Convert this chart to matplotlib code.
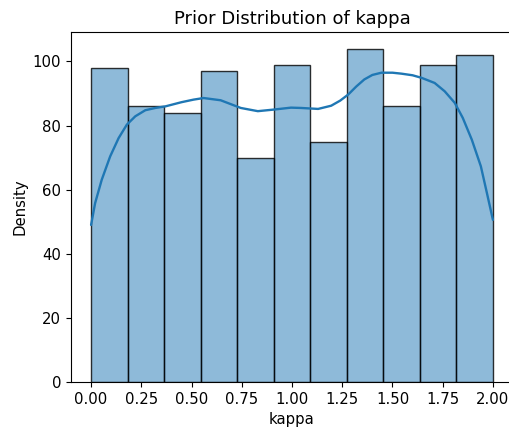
import numpy as np
import matplotlib
matplotlib.use("Agg")
import matplotlib.pyplot as plt

# Histogram data (counts per bin), bins span 0..2
bin_lo = 0.0
bin_hi = 2.0
counts = [98, 86, 84, 97, 70, 99, 75, 104, 86, 99, 102]

# KDE curve points (scaled to counts)
kde_x = [0.0, 0.02, 0.053, 0.095, 0.137, 0.178, 0.22, 0.27, 0.32, 0.37,
         0.45, 0.51, 0.56, 0.645, 0.745, 0.83, 0.91, 0.995, 1.045, 1.13,
         1.195, 1.24, 1.28, 1.32, 1.36, 1.40, 1.445, 1.50, 1.545, 1.60,
         1.645, 1.71, 1.76, 1.81, 1.85, 1.895, 1.94, 1.97, 2.0]
kde_y = [49.0, 55.8, 63.1, 70.4, 76.1, 80.3, 82.9, 84.8, 85.5, 86.0,
         87.3, 88.1, 88.6, 87.9, 85.5, 84.5, 85.0, 85.6, 85.5, 85.2,
         86.2, 87.8, 89.7, 92.2, 94.4, 95.8, 96.5, 96.5, 96.2, 95.7,
         94.9, 93.3, 90.7, 87.1, 82.4, 75.6, 67.3, 59.0, 50.6]

xticks = [0.0, 0.25, 0.5, 0.75, 1.0, 1.25, 1.5, 1.75, 2.0]
yticks = [0, 20, 40, 60, 80, 100]

c0 = "#1f77b4"
plt.rcParams["font.size"] = 10.7
fig = plt.figure(figsize=(5.1, 4.36), dpi=100)
ax = fig.add_axes([71/510, 1-382/436, 442/510, 350/436])

edges = np.linspace(bin_lo, bin_hi, len(counts) + 1)
ax.bar(edges[:-1], counts, width=np.diff(edges), align="edge",
       facecolor=matplotlib.colors.to_rgba(c0, 0.5),
       edgecolor=(0, 0, 0, 0.8), linewidth=1.0)
ax.plot(kde_x, kde_y, color=c0, linewidth=1.7,
        solid_joinstyle="round", solid_capstyle="round")

ax.set_xticks(xticks)
ax.set_xticklabels([f"{t:.2f}" for t in xticks])
ax.set_yticks(yticks)
ax.set_xlim(-0.1, 2.1)
ax.set_ylim(0, max(counts) * 1.05)
ax.spines["right"].set_visible(False)
ax.set_xlabel("kappa")
ax.set_ylabel("Density")
ax.set_title("Prior Distribution of kappa", fontsize=13)

fig.savefig("out.png", dpi=100)
